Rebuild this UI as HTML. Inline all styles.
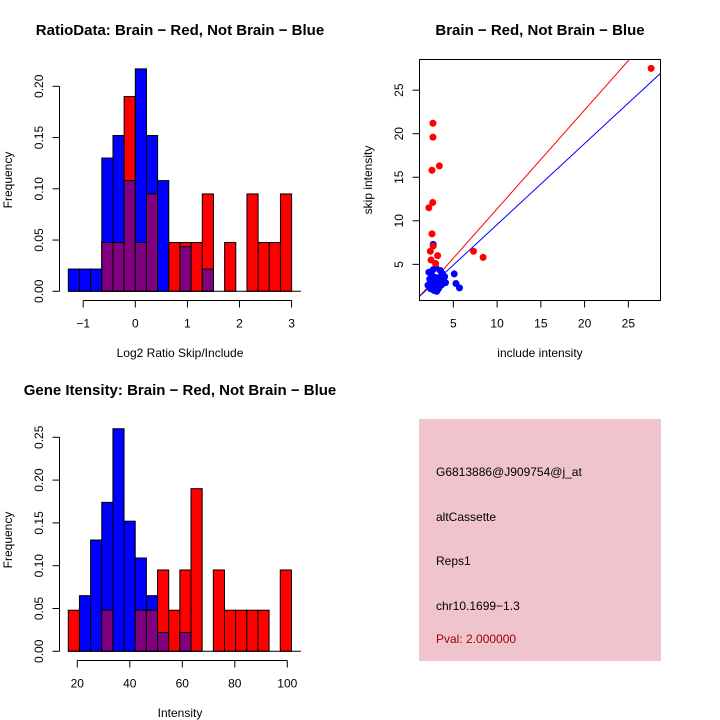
<!DOCTYPE html>
<html><head><meta charset="utf-8"><style>
html,body{margin:0;padding:0;background:#fff;}
svg{display:block;font-family:"Liberation Sans",sans-serif;}
</style></head><body>
<svg id="chart" width="720" height="720" viewBox="0 0 720 720">
<g id="p1"></g>
<g id="p2"></g>
<g id="p3"></g>
<g id="p4">
<rect x="419" y="419" width="242" height="242" fill="#f0c4cc"/>
<text x="436" y="476" font-size="12">G6813886@J909754@j_at</text>
<text x="436" y="521" font-size="12">altCassette</text>
<text x="436" y="565" font-size="12">Reps1</text>
<text x="436" y="610" font-size="12">chr10.1699−1.3</text>
<text x="436" y="643" font-size="12" fill="#a00000">Pval: 2.000000</text>
</g>
</svg>
<script>
// ---- Panel 1 data: log2 ratio histogram ----
const ratioBinStart = -1.2857;
const ratioBinWidth = 0.2143;
const ratioBlue = [0.0217,0.0217,0.0217,0.130,0.152,0.108,0.217,0.152,0.108,0,0.0435,0,0.0217,0,0,0,0,0,0,0];
const ratioRed  = [0,0,0,0.0476,0.0476,0.190,0.0476,0.095,0,0.0476,0.0476,0.0476,0.095,0,0.0476,0,0.095,0.0476,0.0476,0.095];
const ratioXTicks = [-1,0,1,2,3];
const ratioYTicks = [0,0.05,0.10,0.15,0.20];
const ratioYLabels = ["0.00","0.05","0.10","0.15","0.20"];

// ---- Panel 3 data: gene intensity histogram ----
const intBinStart = 16.57;
const intBinWidth = 4.25;
const intBlue = [0,0.065,0.13,0.174,0.26,0.152,0.109,0.065,0.022,0,0.022,0,0,0,0,0,0,0,0,0];
const intRed  = [0.048,0,0,0.048,0,0,0.048,0.048,0.095,0.048,0.095,0.19,0,0.095,0.048,0.048,0.048,0.048,0,0.095];
const intXTicks = [20,40,60,80,100];
const intYTicks = [0,0.05,0.10,0.15,0.20,0.25];
const intYLabels = ["0.00","0.05","0.10","0.15","0.20","0.25"];

// ---- Panel 2 data: scatter ----
const redX = [27.6,2.67,2.67,3.4,2.56,2.64,2.2,2.56,2.7,2.37,3.2,2.45,2.97,7.3,8.4];
const redY = [27.5,21.2,19.6,16.3,15.8,12.1,11.5,8.5,7.1,6.5,6.0,5.5,5.1,6.5,5.8];
const blueX = [2.7,5.1,5.3,5.7,2.2,2.5,2.3,2.6,2.4,2.8,3.0,3.2,3.4,3.5,3.7,3.9,4.0,3.6,3.3,3.1,2.9,2.7,3.0,4.1,2.5,3.8,2.1,2.6,3.5,2.9];
const blueY = [7.3,3.9,2.8,2.3,4.1,3.8,3.3,2.8,2.2,2.0,2.5,3.0,3.5,4.3,4.0,3.2,3.6,2.6,2.2,1.9,3.5,4.4,4.6,2.9,2.5,2.8,2.6,3.2,3.0,2.9];
const redLine = [1.134, 0.04];   // slope, intercept
const blueLine = [0.93, 0.27];
const scatTicks = [5,10,15,20,25];

const NS = "http://www.w3.org/2000/svg";
function mk(parent, tag, attrs) {
  const e = document.createElementNS(NS, tag);
  for (const k in attrs) e.setAttribute(k, attrs[k]);
  parent.appendChild(e);
  return e;
}
function txt(parent, x, y, s, size, extra) {
  const t = mk(parent, "text", Object.assign({x:x, y:y, "font-size":size, "text-anchor":"middle"}, extra || {}));
  t.textContent = s;
  return t;
}

function histogram(g, cfg) {
  const xs = v => cfg.x0px + (v - cfg.x0) * cfg.xk;
  const ys = v => cfg.y0px - v * cfg.yk;
  const n = cfg.blue.length;
  for (let i = 0; i < n; i++) {
    const a = xs(cfg.start + i * cfg.width), b = xs(cfg.start + (i + 1) * cfg.width);
    const bv = cfg.blue[i], rv = cfg.red[i];
    if (bv > 0) {
      const r = mk(g, "rect", {x:a, y:ys(bv), width:b-a, height:ys(0)-ys(bv), fill:"#0000ff", stroke:"#000", "stroke-width":1});
      
      
    }
    if (rv > 0) {
      const r = mk(g, "rect", {x:a, y:ys(rv), width:b-a, height:ys(0)-ys(rv), fill:"#ff0000", stroke:"#000", "stroke-width":1});
      
      
    }
    const m = Math.min(bv, rv);
    if (m > 0) {
      const r = mk(g, "rect", {x:a, y:ys(m), width:b-a, height:ys(0)-ys(m), fill:"#800080", stroke:"#000", "stroke-width":1});
      
      
    }
  }
  const bl = mk(g, "line", {x1:xs(cfg.start), x2:cfg.baseEnd, y1:ys(0), y2:ys(0), stroke:"#000"});
  
  
  const xa = mk(g, "g", {});
  
  
  const xt = cfg.xticks;
  mk(xa, "line", {x1:xs(xt[0]), x2:xs(xt[xt.length-1]), y1:cfg.xaxisY, y2:cfg.xaxisY, stroke:"#000"});
  xt.forEach(v => {
    mk(xa, "line", {x1:xs(v), x2:xs(v), y1:cfg.xaxisY, y2:cfg.xaxisY+7, stroke:"#000"});
    const t = txt(xa, xs(v), cfg.xaxisY+27, v < 0 ? "−" + (-v) : String(v), 12);
    
    
  });
  const ya = mk(g, "g", {});
  
  
  const yt = cfg.yticks;
  mk(ya, "line", {x1:59.5, x2:59.5, y1:ys(yt[0]), y2:ys(yt[yt.length-1]), stroke:"#000"});
  yt.forEach((v, i) => {
    mk(ya, "line", {x1:59.5, x2:52.5, y1:ys(v), y2:ys(v), stroke:"#000"});
    const t = txt(ya, 0, 0, cfg.ylabels[i], 12, {transform:`translate(43,${ys(v)}) rotate(-90)`});
    
    
  });
  const t1 = txt(g, 180, cfg.titleY, cfg.title, 15, {"font-weight":"bold"});
  
  
  const t2 = txt(g, 180, cfg.xlabY, cfg.xlab, 12);
  
  
  const t3 = txt(g, 0, 0, "Frequency", 12, {transform:`translate(12,${cfg.ylabMid}) rotate(-90)`});
  
  
}

histogram(document.getElementById("p1"), {
  blue: ratioBlue, red: ratioRed, start: ratioBinStart, width: ratioBinWidth,
  x0: 0, x0px: 135.3, xk: 52.1, y0px: 291.3, yk: 1025,
  xticks: ratioXTicks, yticks: ratioYTicks, ylabels: ratioYLabels,
  xaxisY: 300.5, baseEnd: 301, title: "RatioData: Brain − Red, Not Brain − Blue",
  titleY: 35, xlab: "Log2 Ratio Skip/Include", xlabY: 357, ylabMid: 180
});
histogram(document.getElementById("p3"), {
  blue: intBlue, red: intRed, start: intBinStart, width: intBinWidth,
  x0: 20, x0px: 77.3, xk: 2.625, y0px: 651.3, yk: 856,
  xticks: intXTicks, yticks: intYTicks, ylabels: intYLabels,
  xaxisY: 660.5, baseEnd: 301, title: "Gene Itensity: Brain − Red, Not Brain − Blue",
  titleY: 395, xlab: "Intensity", xlabY: 717, ylabMid: 540
});

(function(){
  const g = document.getElementById("p2");
  const xs = v => 409.6 + v * 8.75;
  const ys = v => 307.9 - v * 8.71;
  const L = 419.5, R = 660.5, T = 59.5, B = 300.5;
  const box = mk(g, "rect", {x:L, y:T, width:R-L, height:B-T, fill:"none", stroke:"#000"});
  
  
  const clip = mk(g, "clipPath", {id:"scclip"});
  mk(clip, "rect", {x:L, y:T, width:R-L, height:B-T});
  const inner = mk(g, "g", {"clip-path":"url(#scclip)"});
  const x1 = (L - 409.6) / 8.75, x2 = (R - 409.6) / 8.75;
  [[redLine, "#ff0000", "red-fit-line"], [blueLine, "#0000ff", "blue-fit-line"]].forEach(([ln, c, nm]) => {
    const l = mk(inner, "line", {x1:xs(x1), y1:ys(ln[0]*x1+ln[1]), x2:xs(x2), y2:ys(ln[0]*x2+ln[1]), stroke:c, "stroke-width":1});
    
    
  });
  blueX.forEach((v, i) => {
    const c = mk(inner, "circle", {cx:xs(v), cy:ys(blueY[i]), r:3.5, fill:"#0000ff"});
    
    
  });
  redX.forEach((v, i) => {
    const c = mk(inner, "circle", {cx:xs(v), cy:ys(redY[i]), r:3.5, fill:"#ff0000"});
    
    
  });
  scatTicks.forEach(v => {
    mk(g, "line", {x1:xs(v), x2:xs(v), y1:B, y2:B+7, stroke:"#000"});
    const t = txt(g, xs(v), B+27, String(v), 12);
    
    
    mk(g, "line", {x1:L, x2:L-7, y1:ys(v), y2:ys(v), stroke:"#000"});
    const t2 = txt(g, 0, 0, String(v), 12, {transform:`translate(403,${ys(v)}) rotate(-90)`});
    
    
  });
  const tt = txt(g, 540, 35, "Brain − Red, Not Brain − Blue", 15, {"font-weight":"bold"});
  
  
  const xl = txt(g, 540, 357, "include intensity", 12);
  
  
  const yl = txt(g, 0, 0, "skip intensity", 12, {transform:`translate(372,180) rotate(-90)`});
  
  
})();
</script>
</body></html>
